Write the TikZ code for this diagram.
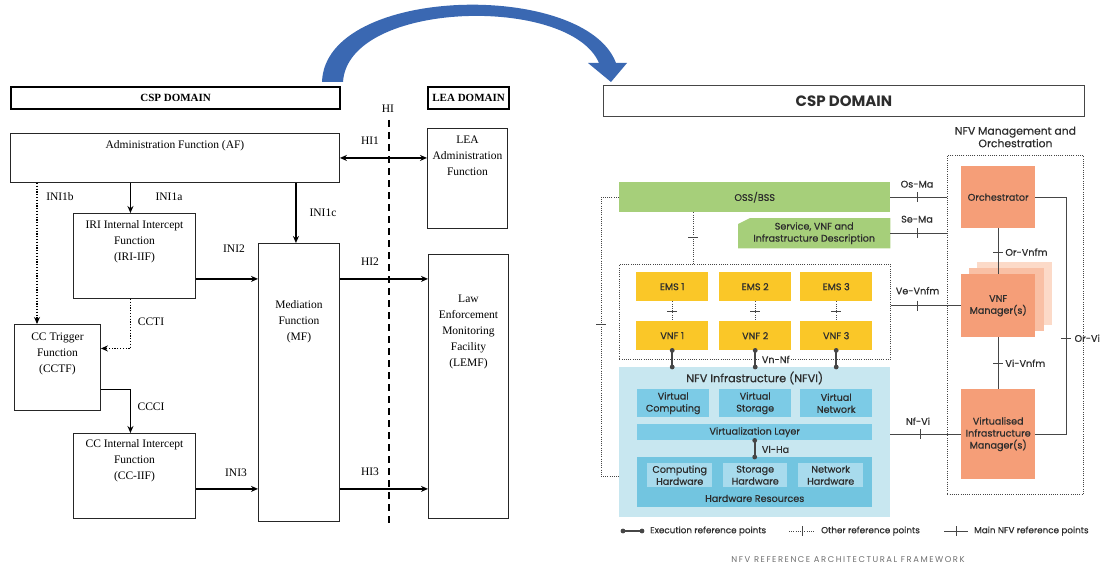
\documentclass[tikz,border=0pt]{standalone}
\usepackage{fontspec}
\setmainfont{Liberation Serif}
\newfontfamily\rf{Poppins}
\newfontfamily\rfm[FakeBold=0.6]{Poppins}
\usetikzlibrary{arrows.meta,calc,backgrounds}
\definecolor{ossg}{RGB}{166,207,122}
\definecolor{emsy}{RGB}{250,199,40}
\definecolor{orng}{RGB}{245,158,120}
\definecolor{orng2}{RGB}{249,192,165}
\definecolor{orng3}{RGB}{252,218,200}
\definecolor{nfvib}{RGB}{200,231,240}
\definecolor{virb}{RGB}{124,203,230}
\definecolor{hwb}{RGB}{114,197,224}
\definecolor{hwin}{RGB}{168,219,237}
\definecolor{txt}{RGB}{45,45,45}
\definecolor{lc}{RGB}{70,70,70}
\definecolor{arcb}{RGB}{58,104,178}
\definecolor{ttlg}{RGB}{110,110,110}
\begin{document}
\begin{tikzpicture}[x=1pt,y=-1pt,
  lb/.style={draw=black!85, line width=0.9pt, inner sep=0pt, anchor=north west},
  hb/.style={draw=black, line width=2.2pt, inner sep=0pt, anchor=north west, font=\fontsize{11}{13}\selectfont\bfseries},
  lt/.style={font=\fontsize{11.5}{16}\selectfont, align=center, inner sep=0pt, anchor=north},
  ll/.style={font=\fontsize{11.5}{13}\selectfont, inner sep=0pt},
  arr/.style={line width=1.3pt, -{Stealth[length=7pt,width=6pt]}},
  darr/.style={line width=1.3pt, {Stealth[length=7pt,width=6pt]}-{Stealth[length=7pt,width=6pt]}},
  dotarr/.style={line width=1.3pt, dash pattern=on 1.3pt off 1.5pt, -{Stealth[length=7pt,width=6pt]}},
  hid/.style={line width=1.2pt, dash pattern=on 7pt off 5pt},
  rb/.style={inner sep=0pt, anchor=north west, font=\rfm\fontsize{9.6}{12}\selectfont, text=txt, align=center},
  rl/.style={inner sep=0pt, font=\rfm\fontsize{9.6}{12}\selectfont, text=txt},
  ln/.style={draw=lc, line width=0.9pt},
  dt/.style={draw=lc, line width=0.9pt, dash pattern=on 1pt off 1.2pt},
  ex/.style={draw=lc, line width=1.8pt},
]
\useasboundingbox (0,0) rectangle (1103,567);

% ---------------- blue arc arrow
\fill[arcb] (322,82) .. controls (325,-15) and (585,-20) .. (616,63) -- (627,63) -- (611,82) -- (588,63) -- (599,63) .. controls (570,-5) and (348,0) .. (343,82) -- cycle;

% ---------------- left diagram
\node[hb, minimum width=329pt, minimum height=22pt] (cspL) at (10,86) {CSP DOMAIN};
\node[hb, minimum width=81pt, minimum height=22pt] (leaL) at (427,86) {LEA DOMAIN};

\node[lb, minimum width=329pt, minimum height=49pt, label={[lt,yshift=-7.5pt]north:Administration Function (AF)}] (af) at (10,133) {};
\node[lb, minimum width=80pt, minimum height=100pt, label={[lt,yshift=-7.5pt]north:{LEA\\Administration\\Function}}] (leaaf) at (427,128) {};
\node[lb, minimum width=122pt, minimum height=85pt, label={[lt,yshift=-7.5pt]north:{IRI Internal Intercept\\Function\\(IRI-IIF)}}] (iri) at (73,213) {};
\node[lb, minimum width=81pt, minimum height=278pt, label={[lt,yshift=-57.5pt]north:{Mediation\\Function\\(MF)}}] (mf) at (258,243) {};
\node[lb, minimum width=80pt, minimum height=264pt, label={[lt,yshift=-40.5pt]north:{Law\\Enforcement\\Monitoring\\Facility\\(LEMF)}}] (lemf) at (428,254) {};
\node[lb, minimum width=86pt, minimum height=86pt, label={[lt,yshift=-8.5pt]north:{CC Trigger\\Function\\(CCTF)}}] (cctf) at (14,324) {};
\node[lb, minimum width=122pt, minimum height=85pt, label={[lt,yshift=-6.5pt]north:{CC Internal Intercept\\Function\\(CC-IIF)}}] (cciif) at (73,433) {};

\coordinate (b1) at ([xshift=23pt]cctf.north west);
\coordinate (c1) at ([xshift=-4pt]iri.north);
\coordinate (c2) at ([xshift=-3pt]mf.north);
\coordinate (c3) at ([yshift=20pt]iri.south east);
\coordinate (c4) at ([yshift=30pt]cciif.south east);
\coordinate (c5) at ([yshift=19pt]cctf.east);
\coordinate (c6) at ([yshift=-22pt]cctf.east);

\draw[dotarr] (b1 |- af.south) -- (b1);
\draw[arr] (c1 |- af.south) -- (c1);
\draw[arr] (c2 |- af.south) -- (c2);
\draw[darr] (af.east) -- (af.east -| leaaf.west);
\draw[arr] (c3) -- (c3 -| mf.west);
\draw[arr] (c3 -| mf.east) -- (c3 -| lemf.west);
\draw[arr] (c4) -- (c4 -| mf.west);
\draw[arr] (c4 -| mf.east) -- (c4 -| lemf.west);
\draw[dotarr] (c1 |- iri.south) -- (c1 |- c5) -- (c5);
\draw[arr] (c6) -- (c6 -| c1) -- (c1 |- cciif.north);
\draw[hid] (389,120) -- (389,525);

\node[ll] (lhi) at (388,109) {HI};
\node[ll] (lhi1) at (370,141) {HI1};
\node[ll] (lhi2) at (370,262) {HI2};
\node[ll] (lhi3) at (370,472) {HI3};
\node[ll] (lini1b) at (60,197) {INI1b};
\node[ll] (lini1a) at (169,197) {INI1a};
\node[ll] (lini1c) at (323,213) {INI1c};
\node[ll] (lini2) at (234,249) {INI2};
\node[ll] (lini3) at (236,473) {INI3};
\node[ll] (lccti) at (151,322) {CCTI};
\node[ll] (lccci) at (151,407) {CCCI};

% ---------------- right diagram
\node[draw=lc, line width=0.8pt, inner sep=0pt, anchor=north west, minimum width=481pt, minimum height=31pt, font=\rf\bfseries\fontsize{15}{17}\selectfont, text=txt] (cspR) at (603,85) {CSP DOMAIN};

\node[dt, inner sep=0pt, anchor=north west, minimum width=136pt, minimum height=339pt,
  label={[rl, anchor=center, align=center, yshift=18pt, font=\rfm\fontsize{10.8}{12.5}\selectfont]north:{NFV Management and\\Orchestration}}] (mano) at (947,155) {};

\node[rb, fill=ossg, minimum width=271pt, minimum height=30pt] (oss) at (619,182) {OSS/BSS};
\node[rb, minimum width=152pt, minimum height=30pt] (sd) at (738,218) {Service, VNF and\\Infrastructure Description};
\begin{scope}[on background layer]
\fill[ossg] ($(sd.north west)+(12,0)$) -- (sd.north east) -- (sd.south east) -- (sd.south west) -- ($(sd.north west)+(0,6)$) -- cycle;
\end{scope}

\node[rb, fill=orng, minimum width=74pt, minimum height=62pt] (orch) at (961,166) {Orchestrator};
\node[rb, fill=orng3, minimum width=75pt, minimum height=63pt] (vnfmB) at (977,262) {};
\node[rb, fill=orng2, minimum width=75pt, minimum height=63pt] (vnfmM) at (969,268) {};
\node[rb, fill=orng, minimum width=74pt, minimum height=63pt] (vnfm) at (961,274) {VNF\\Manager(s)};
\node[rb, fill=orng, minimum width=74pt, minimum height=90pt] (vim) at (961,389) {Virtualised\\Infrastructure\\Manager(s)};

\node[dt, inner sep=0pt, anchor=north west, minimum width=271pt, minimum height=95pt] (vnfbox) at (619,264) {};
\node[rb, fill=emsy, minimum width=72pt, minimum height=29pt] (ems1) at (636,272) {EMS 1};
\node[rb, fill=emsy, minimum width=72pt, minimum height=29pt] (ems2) at (719,272) {EMS 2};
\node[rb, fill=emsy, minimum width=72pt, minimum height=29pt] (ems3) at (800,272) {EMS 3};
\node[rb, fill=emsy, minimum width=72pt, minimum height=29pt] (vnf1) at (636,321) {VNF 1};
\node[rb, fill=emsy, minimum width=72pt, minimum height=29pt] (vnf2) at (719,321) {VNF 2};
\node[rb, fill=emsy, minimum width=72pt, minimum height=29pt] (vnf3) at (800,321) {VNF 3};

\node[rb, fill=nfvib, minimum width=271pt, minimum height=150pt,
  label={[rl, anchor=center, yshift=-11pt, font=\rfm\fontsize{11.2}{13}\selectfont]north:NFV Infrastructure (NFVI)}] (nfvi) at (619,367) {};
\node[rb, fill=virb, minimum width=72pt, minimum height=28pt] (vc) at (637,389) {Virtual\\Computing};
\node[rb, fill=virb, minimum width=72pt, minimum height=28pt] (vs) at (719,389) {Virtual\\Storage};
\node[rb, fill=virb, minimum width=72pt, minimum height=28pt] (vn) at (800,389) {Virtual\\Network};
\node[rb, fill=virb, minimum width=235pt, minimum height=16pt] (vl) at (637,424) {Virtualization Layer};
\node[rb, fill=hwb, minimum width=235pt, minimum height=50pt,
  label={[rl, anchor=center, yshift=9pt]south:Hardware Resources}] (hw) at (637,457) {};
\node[rb, fill=hwin, minimum width=65pt, minimum height=24pt] (ch) at (647,463) {Computing\\Hardware};
\node[rb, fill=hwin, minimum width=64pt, minimum height=24pt] (sh) at (723,463) {Storage\\Hardware};
\node[rb, fill=hwin, minimum width=65pt, minimum height=24pt] (nh) at (798,463) {Network\\Hardware};

% main reference points
\draw[ln] (oss.east) -- coordinate[pos=0.47] (tosma) (oss.east -| mano.west);
\draw[ln] ([yshift=5pt]tosma) -- ([yshift=-5pt]tosma);
\node[rl] (losma) at ([yshift=13pt]tosma) {Os-Ma};
\draw[ln] (sd.east) -- coordinate[pos=0.47] (tsema) (sd.east -| mano.west);
\draw[ln] ([yshift=5pt]tsema) -- ([yshift=-5pt]tsema);
\node[rl] (lsema) at ([yshift=14pt]tsema) {Se-Ma};
\draw[ln] (vnfm.west -| vnfbox.east) -- coordinate[pos=0.38] (tvevnfm) (vnfm.west);
\draw[ln] ([yshift=5pt]tvevnfm) -- ([yshift=-5pt]tvevnfm);
\node[rl] (lvevnfm) at ([yshift=15pt]tvevnfm) {Ve-Vnfm};
\draw[ln] (vim.west -| nfvi.east) -- coordinate[pos=0.42] (tnfvi) (vim.west);
\draw[ln] ([yshift=5pt]tnfvi) -- ([yshift=-5pt]tnfvi);
\node[rl] (lnfvi) at ([yshift=13pt,xshift=-2pt]tnfvi) {Nf-Vi};
\draw[ln] (orch.south) -- coordinate[pos=0.52] (torvnfm) (vnfm.north);
\draw[ln] ([xshift=-5pt]torvnfm) -- ([xshift=5pt]torvnfm);
\node[rl, anchor=west] (lorvnfm) at ([xshift=7pt]torvnfm) {Or-Vnfm};
\draw[ln] (vnfm.south) -- coordinate[pos=0.5] (tvivnfm) (vim.north);
\draw[ln] ([xshift=-5pt]tvivnfm) -- ([xshift=5pt]tvivnfm);
\node[rl, anchor=west] (lvivnfm) at ([xshift=7pt]tvivnfm) {Vi-Vnfm};
\draw[ln] (orch.east) -- ++(31,0) coordinate (ov1) -- (ov1 |- vim.east) -- (vim.east);
\coordinate (torvi) at ($(ov1)+(0,141)$);
\draw[ln] ([xshift=-5pt]torvi) -- ([xshift=5pt]torvi);
\node[rl, anchor=west] (lorvi) at ([xshift=8pt]torvi) {Or-Vi};

% other reference points
\coordinate (nl) at ([yshift=41pt]nfvi.south west);
\draw[dt] (oss.west) -- ++(-18,0) coordinate (ol1) -- (ol1 |- nl) -- (nl);
\coordinate (tol) at ($(ol1)+(0,127)$);
\draw[ln] ([xshift=-5pt]tol) -- ([xshift=5pt]tol);
\coordinate (ov) at ([xshift=74pt]oss.south west);
\draw[dt] (ov) -- coordinate[pos=0.48] (tov) (ov |- vnfbox.north);
\draw[ln] ([xshift=-5pt]tov) -- ([xshift=5pt]tov);
\foreach \i in {1,2,3}{
  \draw[dt] (ems\i.south) -- coordinate[midway] (te\i) (vnf\i.north);
  \draw[ln] ([xshift=-5pt]te\i) -- ([xshift=5pt]te\i);
}

% execution reference points
\foreach \i in {1,2,3}{
  \draw[ex] (vnf\i.south) -- (vnf\i.south |- nfvi.north);
  \fill[lc] (vnf\i.south) circle (2.4pt);
  \fill[lc] (vnf\i.south |- nfvi.north) circle (2.4pt);
}
\node[rl, anchor=west, fill=white, inner sep=1.5pt] (lvnnf) at ([xshift=5pt,yshift=-9pt]vnf2.south) {Vn-Nf};
\draw[ex] (vl.south) -- (hw.north);
\fill[lc] (vl.south) circle (2.4pt);
\fill[lc] (hw.north) circle (2.4pt);
\node[rl, anchor=west] (lvlha) at ([xshift=7pt,yshift=-9pt]vl.south) {Vl-Ha};

% legend
\node[rl, anchor=west, font=\rfm\fontsize{8.8}{10}\selectfont] (lg1) at (650,531) {Execution reference points};
\node[rl, anchor=west, font=\rfm\fontsize{8.8}{10}\selectfont] (lg2) at (821,531) {Other reference points};
\node[rl, anchor=west, font=\rfm\fontsize{8.8}{10}\selectfont] (lg3) at (974,531) {Main NFV reference points};
\draw[ex, line width=1.2pt] ([xshift=-27pt]lg1.west) -- ([xshift=-8pt]lg1.west);
\fill[lc] ([xshift=-27pt]lg1.west) circle (2.4pt);
\fill[lc] ([xshift=-8pt]lg1.west) circle (2.4pt);
\draw[dt] ([xshift=-32pt]lg2.west) -- ([xshift=-6pt]lg2.west);
\draw[ln] ([xshift=-19pt,yshift=5pt]lg2.west) -- ([xshift=-19pt,yshift=-5pt]lg2.west);
\draw[ln] ([xshift=-30pt]lg3.west) -- ([xshift=-6pt]lg3.west);
\draw[ln] ([xshift=-18pt,yshift=5pt]lg3.west) -- ([xshift=-18pt,yshift=-5pt]lg3.west);

\node[inner sep=0pt, text=ttlg, font=\rf\fontsize{8.4}{10}\selectfont\addfontfeature{LetterSpace=18}] (ttl) at (848,560) {NFV REFERENCE ARCHITECTURAL FRAMEWORK};
\end{tikzpicture}
\end{document}
